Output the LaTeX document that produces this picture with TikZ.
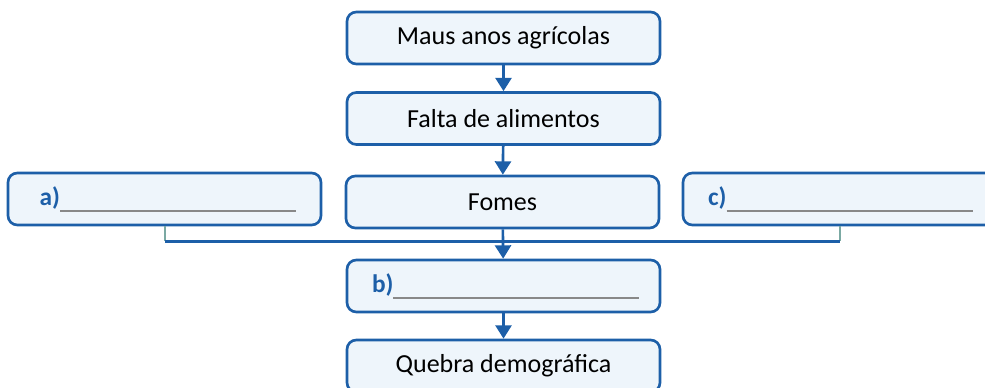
\documentclass[tikz,border=0pt]{standalone}
\usepackage{fontspec}
\setmainfont{Carlito}
\usetikzlibrary{arrows.meta,positioning}
\definecolor{edge}{HTML}{1D5FA8}
\definecolor{pale}{HTML}{EEF5FB}
\definecolor{stub}{HTML}{7BA9A3}
\definecolor{blank}{HTML}{888888}
\newcommand{\gap}[2]{{\color{edge}\bfseries #1}\textcolor{blank}{\rule[-5pt]{#2}{1.4pt}}}

\begin{document}
\begin{tikzpicture}[x=0.75pt,y=-0.75pt,
  stepbox/.style={draw=edge,fill=pale,line width=2pt,rounded corners=7pt,minimum width=234.75pt,minimum height=39pt,inner sep=0pt,font=\fontsize{19.5}{22}\selectfont},
  askbox/.style={stepbox,text width=197.25pt,align=left,font=\fontsize{19}{22}\selectfont},
  flow/.style={draw=edge,line width=2pt,-{Triangle[width=12pt,length=10pt]}},
  tie/.style={draw=stub,line width=1.5pt}]
\useasboundingbox (0,0) rectangle (985,388);
\node[stepbox] (maus) at (503.5,38) {Maus anos agrícolas};
\node[stepbox] (falta) at (503.5,118.5) {Falta de alimentos};
\node[stepbox] (fomes) at (502.5,202) {Fomes};
\node[askbox] (ra) at (164.5,199) {\hspace*{5pt}\gap{a)}{177pt}};
\node[askbox] (rc) at (839.5,199) {\gap{c)}{184.5pt}};
\node[askbox] (rb) at (503.5,286) {\gap{b)}{184.5pt}};
\node[stepbox] (quebra) at (503.5,366) {Quebra demográfica};

\draw[flow] (maus) -- (falta);
\draw[flow] (falta) -- (fomes);
\draw[tie] (ra.south) -- ++(0,15) coordinate (aj);
\draw[tie] (rc.south) -- ++(0,15) coordinate (cj);
\draw[edge,line width=2pt] (aj) -- (cj);
\draw[flow] (fomes) -- (rb);
\draw[flow] (rb) -- (quebra);
\end{tikzpicture}
\end{document}
